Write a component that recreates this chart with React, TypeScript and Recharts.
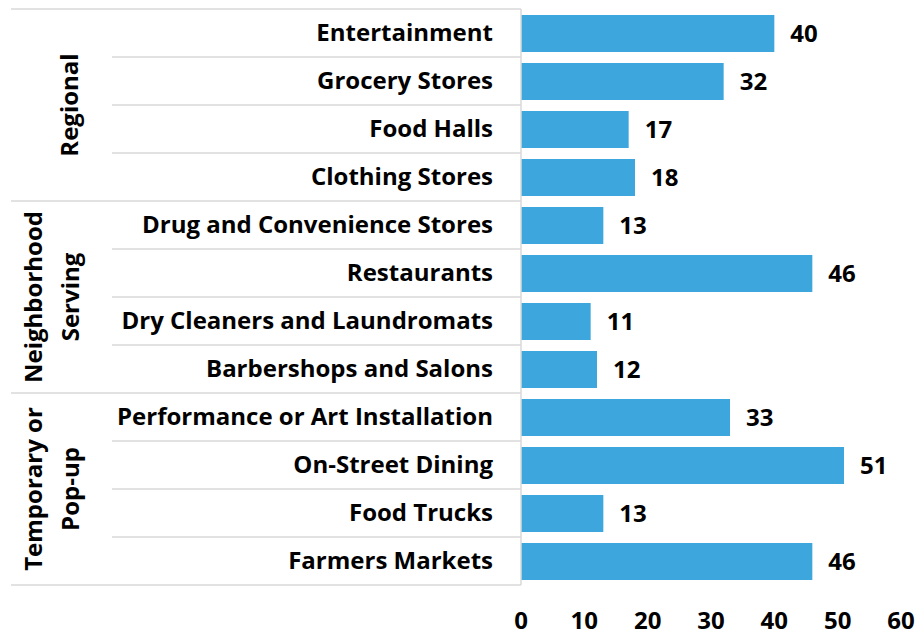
import { BarChart, Bar, XAxis, YAxis, LabelList } from "recharts";

const categories = [
  "Entertainment",
  "Grocery Stores",
  "Food Halls",
  "Clothing Stores",
  "Drug and Convenience Stores",
  "Restaurants",
  "Dry Cleaners and Laundromats",
  "Barbershops and Salons",
  "Performance or Art Installation",
  "On-Street Dining",
  "Food Trucks",
  "Farmers Markets",
];
const values = [40, 32, 17, 18, 13, 46, 11, 12, 33, 51, 13, 46];
const groupNames = [["Regional"], ["Neighborhood", "Serving"], ["Temporary or", "Pop-up"]];
const groupSizes = [4, 4, 4];
const xTicks = [0, 10, 20, 30, 40, 50, 60];

const data = categories.map((name, i) => ({ name, value: values[i] }));

const W = 917;
const H = 635;
const TOP = 9;
const BOTTOM = 50;
const AXIS_X = 521;
const BAND = (H - TOP - BOTTOM) / categories.length;
const FONT = "'Open Sans', sans-serif";
const FS = 24;
const GRID = "#d9d9d9";

const groupStarts = groupSizes.map((_, g) =>
  groupSizes.slice(0, g).reduce((a, b) => a + b, 0)
);

const CategoryTick = (props: any) => {
  const { y, payload, index } = props;
  const top = y - BAND / 2;
  const g = groupStarts.indexOf(index);
  const isLast = index === categories.length - 1;
  return (
    <g>
      <line
        x1={g >= 0 ? 11 : 112}
        x2={AXIS_X}
        y1={top}
        y2={top}
        stroke={GRID}
        strokeWidth={1.5}
      />
      {isLast && (
        <line x1={11} x2={AXIS_X} y1={top + BAND} y2={top + BAND} stroke={GRID} strokeWidth={1.5} />
      )}
      <text
        x={AXIS_X - 28}
        y={y}
        dy="0.32em"
        textAnchor="end"
        fontFamily={FONT}
        fontWeight="bold"
        fontSize={FS}
        fill="#000"
      >
        {payload.value}
      </text>
      {g >= 0 && (() => {
        const lines = groupNames[g];
        const cy = top + (groupSizes[g] * BAND) / 2;
        const cx = lines.length === 1 ? 69 : 52;
        const step = 37;
        return (
          <text
            transform={`translate(${cx},${cy}) rotate(-90)`}
            textAnchor="middle"
            fontFamily={FONT}
            fontWeight="bold"
            fontSize={FS}
            fill="#000"
          >
            {lines.map((l, k) => (
              <tspan
                key={k}
                x={0}
                y={(k - (lines.length - 1) / 2) * step}
                dy="0.36em"
              >
                {l}
              </tspan>
            ))}
          </text>
        );
      })()}
    </g>
  );
};

export default function App() {
  return (
    <div style={{ position: "absolute", left: 0, top: 0, background: "#fff" }}>
      <BarChart
        width={W}
        height={H}
        data={data}
        layout="vertical"
        margin={{ top: TOP, right: 16, bottom: 0, left: 0 }}
      >
        <XAxis
          type="number"
          domain={[0, 60]}
          ticks={xTicks}
          axisLine={false}
          tickLine={false}
          height={BOTTOM}
          tickMargin={21}
          tick={{ fontFamily: FONT, fontWeight: "bold", fontSize: FS, fill: "#000" }}
          interval={0}
        />
        <YAxis
          type="category"
          dataKey="name"
          width={AXIS_X}
          axisLine={{ stroke: GRID, strokeWidth: 1.5 }}
          tickLine={false}
          interval={0}
          tick={<CategoryTick />}
        />
        <Bar dataKey="value" fill="#3ca6dd" barSize={37} isAnimationActive={false}>
          <LabelList
            dataKey="value"
            position="right"
            offset={16}
            fontFamily={FONT}
            fontWeight="bold"
            fontSize={FS}
            fill="#000"
          />
        </Bar>
      </BarChart>
    </div>
  );
}
